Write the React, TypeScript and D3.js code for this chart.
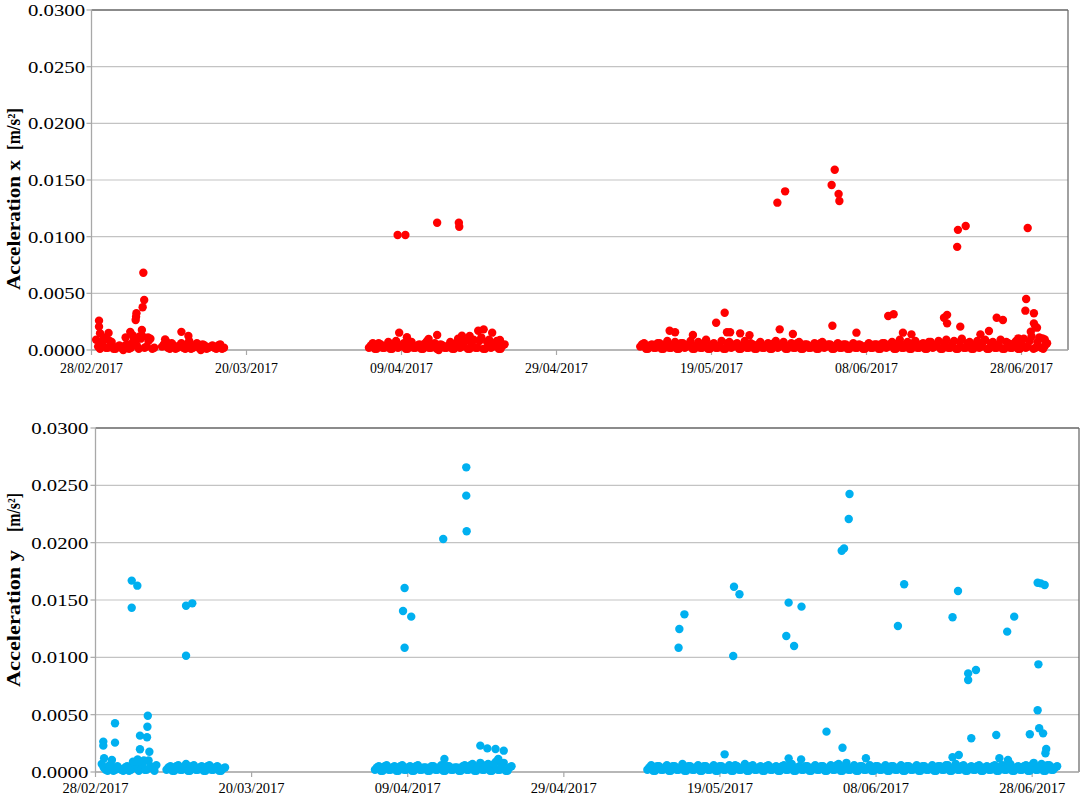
import React from "react";
import * as d3 from "d3";

// ---------- DATA (days since 28/02/2017 00:00, value in m/s²) ----------
const BASE_DATE = Date.UTC(2017, 1, 28);
const DOMAIN_DAYS = 126;
const TICK_STEP_DAYS = 20;
const Y_MAX = 0.03;
const SAMPLE_STEP_DAYS = 0.5; // regular sampling interval of the low-level records

// Acceleration x — isolated / elevated records
const xPeaks: [number, number][] = [
  [0.97, 0.00259], [0.97, 0.00206], [1.1, 0.00147], [2.2, 0.0015], [5.0, 0.0016],
  [5.8, 0.00324], [5.75, 0.00294], [5.7, 0.00265], [6.6, 0.00377], [6.8, 0.00441],
  [6.69, 0.00682], [6.5, 0.00176], [11.6, 0.0016], [12.5, 0.00123], [9.5, 0.00094],
  [4.4, 0.0011], [5.3, 0.0013], [6.2, 0.0012], [7.3, 0.0011], [1.6, 0.0010],
  [39.5, 0.01015], [40.5, 0.01015], [44.6, 0.01123], [47.4, 0.01123], [47.45, 0.01088],
  [39.7, 0.00153], [44.6, 0.00132], [40.7, 0.00112], [43.5, 0.00097], [47.8, 0.00126],
  [48.8, 0.00123], [49.9, 0.0017], [50.6, 0.00182], [51.7, 0.00153], [52.7, 0.00088],
  [88.5, 0.0130], [89.5, 0.0140], [95.5, 0.01456], [95.9, 0.0159], [96.4, 0.01376],
  [96.5, 0.01315], [111.7, 0.0091], [111.8, 0.0106], [112.8, 0.01094], [120.8, 0.01076],
  [81.7, 0.00329], [80.6, 0.00241], [82.0, 0.00156], [82.4, 0.00156], [74.6, 0.0017],
  [75.3, 0.00156], [77.6, 0.00132], [83.7, 0.00147], [84.9, 0.0013], [88.8, 0.00182],
  [90.5, 0.00141], [95.6, 0.00214], [120.6, 0.0045], [120.5, 0.00347], [121.6, 0.00324],
  [121.6, 0.00235], [121.8, 0.00206], [121.2, 0.00162], [102.8, 0.003], [103.5, 0.00315],
  [110.0, 0.00285], [110.4, 0.0031], [110.4, 0.00235], [112.1, 0.00206], [116.8, 0.00285],
  [117.6, 0.00265], [98.7, 0.00153], [104.7, 0.00153], [105.8, 0.00138], [115.8, 0.00168],
  [114.7, 0.00138], [119.6, 0.00103], [122.7, 0.00103], [122.0, 0.00197], [123.0, 0.00094],
];

// Acceleration x — regularly sampled low-level records (start day, values)
const xBandA1Start = 0.6;
const xBandA1 = [0.0009, 0.0001, 0.0011, 0.0002, 0.0007, 0.0001, 0.0004, 0.0000, 0.0005, 0.0002, 0.0009, 0.0001, 0.0012, 0.0003, 0.0010, 0.0002];
const xBandA1bStart = 0.85;
const xBandA1b = [0.0003, 0.0006, 0.0002, 0.0008, 0.0001, 0.0003, 0.0002, 0.0004, 0.0001, 0.0007, 0.0004, 0.0010, 0.0002, 0.0008, 0.0001];
const xBandA2Start = 9.1;
const xBandA2 = [0.0003, 0.0008, 0.0001, 0.0004, 0.0002, 0.0006, 0.0001, 0.0008, 0.0002, 0.0006, 0.0000, 0.0004, 0.0002, 0.0004, 0.0001, 0.0005, 0.0002];
const xBandA2bStart = 9.35;
const xBandA2b = [0.0005, 0.0002, 0.0006, 0.0001, 0.0004, 0.0002, 0.0005, 0.0001, 0.0004, 0.0002, 0.0005, 0.0001, 0.0003, 0.0002, 0.0004, 0.0001];
const xBandBStart = 35.8;
const xBandB = [
  0.0002, 0.0006, 0.0001, 0.0005, 0.0002, 0.0007, 0.0001, 0.0008, 0.0003, 0.0006,
  0.0001, 0.0007, 0.0002, 0.0005, 0.0001, 0.0008, 0.0002, 0.0006, 0.0000, 0.0004,
  0.0002, 0.0007, 0.0001, 0.0010, 0.0003, 0.0008, 0.0001, 0.0009, 0.0002, 0.0011,
  0.0001, 0.0009, 0.0003, 0.0008, 0.0001, 0.0005,
];
const xBandBbStart = 36.05;
const xBandBb = [
  0.0004, 0.0001, 0.0006, 0.0002, 0.0004, 0.0001, 0.0005, 0.0002, 0.0004, 0.0001,
  0.0005, 0.0002, 0.0004, 0.0001, 0.0006, 0.0002, 0.0004, 0.0001, 0.0005, 0.0002,
  0.0004, 0.0001, 0.0006, 0.0002, 0.0007, 0.0001, 0.0006, 0.0002, 0.0008, 0.0001,
  0.0007, 0.0002, 0.0006, 0.0001, 0.0004,
];
const xBandCStart = 70.8;
const xBandC = [
  0.0003, 0.0006, 0.0001, 0.0005, 0.0002, 0.0006, 0.0001, 0.0008, 0.0002, 0.0007,
  0.0001, 0.0006, 0.0003, 0.0008, 0.0001, 0.0007, 0.0002, 0.0009, 0.0001, 0.0006,
  0.0002, 0.0008, 0.0001, 0.0007, 0.0003, 0.0006, 0.0001, 0.0008, 0.0002, 0.0005,
  0.0001, 0.0007, 0.0002, 0.0006, 0.0001, 0.0008, 0.0003, 0.0007, 0.0001, 0.0006,
  0.0002, 0.0007, 0.0001, 0.0005, 0.0002, 0.0006, 0.0001, 0.0007, 0.0003, 0.0005,
  0.0001, 0.0006, 0.0002, 0.0005, 0.0001, 0.0006, 0.0002, 0.0004, 0.0001, 0.0006,
  0.0002, 0.0005, 0.0001, 0.0006, 0.0003, 0.0007, 0.0001, 0.0009, 0.0002, 0.0007,
  0.0001, 0.0008, 0.0002, 0.0006, 0.0001, 0.0007, 0.0003, 0.0008, 0.0001, 0.0009,
  0.0002, 0.0008, 0.0001, 0.0010, 0.0002, 0.0007, 0.0001, 0.0008, 0.0003, 0.0009,
  0.0001, 0.0007, 0.0002, 0.0009, 0.0001, 0.0006, 0.0002, 0.0008, 0.0001, 0.0010,
  0.0003, 0.0012, 0.0002, 0.0011, 0.0001, 0.0006,
];
const xBandCbStart = 71.05;
const xBandCb = [
  0.0005, 0.0001, 0.0004, 0.0002, 0.0006, 0.0001, 0.0005, 0.0002, 0.0004, 0.0001,
  0.0006, 0.0002, 0.0005, 0.0001, 0.0004, 0.0002, 0.0006, 0.0001, 0.0005, 0.0002,
  0.0004, 0.0001, 0.0006, 0.0002, 0.0005, 0.0001, 0.0004, 0.0002, 0.0006, 0.0001,
  0.0005, 0.0002, 0.0004, 0.0001, 0.0006, 0.0002, 0.0005, 0.0001, 0.0004, 0.0002,
  0.0006, 0.0001, 0.0005, 0.0002, 0.0004, 0.0001, 0.0006, 0.0002, 0.0005, 0.0001,
  0.0004, 0.0002, 0.0005, 0.0001, 0.0004, 0.0002, 0.0005, 0.0001, 0.0004, 0.0002,
  0.0005, 0.0001, 0.0006, 0.0002, 0.0005, 0.0001, 0.0006, 0.0002, 0.0005, 0.0001,
  0.0006, 0.0002, 0.0005, 0.0001, 0.0007, 0.0002, 0.0005, 0.0001, 0.0006, 0.0002,
  0.0005, 0.0001, 0.0007, 0.0002, 0.0006, 0.0001, 0.0005, 0.0002, 0.0007, 0.0001,
  0.0006, 0.0002, 0.0005, 0.0001, 0.0007, 0.0002, 0.0006, 0.0001, 0.0005, 0.0002,
  0.0008, 0.0001, 0.0007, 0.0002, 0.0004,
];

// Acceleration y — isolated / elevated records
const yPeaks: [number, number][] = [
  [4.64, 0.01669], [5.36, 0.01625], [4.64, 0.01433], [11.6, 0.0145], [12.4, 0.01471],
  [11.6, 0.01014], [2.5, 0.00425], [2.5, 0.00256], [1.0, 0.00265], [1.0, 0.0023],
  [5.7, 0.00317], [6.6, 0.00303], [6.7, 0.00491], [6.65, 0.00395], [5.7, 0.00198],
  [6.9, 0.00177], [1.1, 0.0012], [2.1, 0.00105], [4.8, 0.0009], [5.4, 0.0011], [6.2, 0.0010],
  [39.6, 0.01605], [39.4, 0.01404], [40.45, 0.01355], [39.6, 0.01084], [44.55, 0.02032],
  [47.5, 0.02657], [47.5, 0.0241], [47.55, 0.021], [49.3, 0.0023], [50.2, 0.00206],
  [51.25, 0.002], [52.3, 0.00186], [44.7, 0.00113], [51.6, 0.00113],
  [96.6, 0.02424], [96.5, 0.02206], [95.6, 0.0193], [95.9, 0.0195], [81.8, 0.01616],
  [82.5, 0.0155], [81.7, 0.01012], [75.45, 0.01375], [74.8, 0.01247], [74.7, 0.01084],
  [88.8, 0.01477], [90.45, 0.01442], [88.5, 0.01186], [89.5, 0.01099], [93.65, 0.00352],
  [95.7, 0.00212], [80.6, 0.00154], [88.8, 0.00119], [90.4, 0.0011],
  [103.6, 0.01637], [102.8, 0.01273], [110.5, 0.01578], [109.8, 0.01349], [117.7, 0.01355],
  [116.8, 0.01224], [120.7, 0.01651], [121.1, 0.01645], [121.6, 0.01631], [120.8, 0.00939],
  [120.7, 0.00538], [120.9, 0.00381], [121.4, 0.00337], [119.7, 0.00329], [115.4, 0.00323],
  [112.2, 0.00294], [111.8, 0.0086], [111.8, 0.00802], [112.8, 0.0089], [121.8, 0.002],
  [121.7, 0.00163], [109.8, 0.00128], [110.6, 0.00148], [115.8, 0.0012], [116.9, 0.00105],
  [98.7, 0.0012],
];

// Acceleration y — regularly sampled low-level records (start day, values)
const yBandA1Start = 0.8;
const yBandA1 = [0.0007, 0.0002, 0.0006, 0.0001, 0.0005, 0.0002, 0.0004, 0.0001, 0.0007, 0.0003, 0.0009, 0.0002, 0.0010, 0.0003, 0.0006];
const yBandA1bStart = 1.05;
const yBandA1b = [0.0004, 0.0001, 0.0005, 0.0002, 0.0003, 0.0001, 0.0005, 0.0002, 0.0006, 0.0001, 0.0007, 0.0002, 0.0005, 0.0001];
const yBandA2Start = 9.1;
const yBandA2 = [0.0002, 0.0005, 0.0001, 0.0006, 0.0002, 0.0007, 0.0001, 0.0006, 0.0002, 0.0005, 0.0001, 0.0006, 0.0002, 0.0005, 0.0001, 0.0004];
const yBandA2bStart = 9.35;
const yBandA2b = [0.0004, 0.0001, 0.0005, 0.0002, 0.0004, 0.0001, 0.0005, 0.0002, 0.0004, 0.0001, 0.0005, 0.0002, 0.0004, 0.0001, 0.0003];
const yBandBStart = 35.8;
const yBandB = [
  0.0002, 0.0005, 0.0001, 0.0006, 0.0002, 0.0005, 0.0001, 0.0006, 0.0002, 0.0005,
  0.0001, 0.0006, 0.0002, 0.0004, 0.0001, 0.0005, 0.0002, 0.0006, 0.0001, 0.0005,
  0.0002, 0.0004, 0.0001, 0.0006, 0.0002, 0.0007, 0.0001, 0.0008, 0.0002, 0.0007,
  0.0001, 0.0009, 0.0002, 0.0008, 0.0001, 0.0005,
];
const yBandBbStart = 36.05;
const yBandBb = [
  0.0004, 0.0001, 0.0005, 0.0002, 0.0004, 0.0001, 0.0005, 0.0002, 0.0004, 0.0001,
  0.0005, 0.0002, 0.0004, 0.0001, 0.0005, 0.0002, 0.0004, 0.0001, 0.0005, 0.0002,
  0.0004, 0.0001, 0.0005, 0.0002, 0.0006, 0.0001, 0.0005, 0.0002, 0.0006, 0.0001,
  0.0007, 0.0002, 0.0005, 0.0001, 0.0004,
];
const yBandCStart = 70.7;
const yBandC = [
  0.0002, 0.0006, 0.0001, 0.0005, 0.0002, 0.0006, 0.0001, 0.0005, 0.0002, 0.0007,
  0.0001, 0.0005, 0.0002, 0.0006, 0.0001, 0.0005, 0.0002, 0.0006, 0.0001, 0.0005,
  0.0002, 0.0006, 0.0001, 0.0005, 0.0002, 0.0007, 0.0001, 0.0006, 0.0002, 0.0005,
  0.0001, 0.0006, 0.0002, 0.0005, 0.0001, 0.0006, 0.0002, 0.0007, 0.0001, 0.0005,
  0.0002, 0.0005, 0.0001, 0.0006, 0.0002, 0.0005, 0.0001, 0.0006, 0.0002, 0.0007,
  0.0001, 0.0008, 0.0002, 0.0006, 0.0001, 0.0005, 0.0002, 0.0006, 0.0001, 0.0005,
  0.0002, 0.0006, 0.0001, 0.0005, 0.0002, 0.0006, 0.0001, 0.0005, 0.0002, 0.0006,
  0.0001, 0.0005, 0.0002, 0.0006, 0.0001, 0.0005, 0.0002, 0.0006, 0.0001, 0.0007,
  0.0002, 0.0006, 0.0001, 0.0005, 0.0002, 0.0006, 0.0001, 0.0005, 0.0002, 0.0006,
  0.0001, 0.0006, 0.0002, 0.0007, 0.0001, 0.0005, 0.0002, 0.0006, 0.0001, 0.0008,
  0.0002, 0.0007, 0.0001, 0.0006, 0.0002, 0.0005,
];
const yBandCbStart = 70.95;
const yBandCb = [
  0.0004, 0.0001, 0.0005, 0.0002, 0.0004, 0.0001, 0.0005, 0.0002, 0.0004, 0.0001,
  0.0005, 0.0002, 0.0004, 0.0001, 0.0005, 0.0002, 0.0004, 0.0001, 0.0005, 0.0002,
  0.0004, 0.0001, 0.0006, 0.0002, 0.0004, 0.0001, 0.0005, 0.0002, 0.0004, 0.0001,
  0.0005, 0.0002, 0.0004, 0.0001, 0.0005, 0.0002, 0.0006, 0.0001, 0.0004, 0.0002,
  0.0005, 0.0001, 0.0004, 0.0002, 0.0005, 0.0001, 0.0004, 0.0002, 0.0006, 0.0001,
  0.0005, 0.0002, 0.0004, 0.0001, 0.0005, 0.0002, 0.0004, 0.0001, 0.0005, 0.0002,
  0.0004, 0.0001, 0.0005, 0.0002, 0.0004, 0.0001, 0.0005, 0.0002, 0.0004, 0.0001,
  0.0005, 0.0002, 0.0004, 0.0001, 0.0005, 0.0002, 0.0006, 0.0001, 0.0004, 0.0002,
  0.0005, 0.0001, 0.0004, 0.0002, 0.0005, 0.0001, 0.0004, 0.0002, 0.0005, 0.0001,
  0.0005, 0.0002, 0.0006, 0.0001, 0.0004, 0.0002, 0.0005, 0.0001, 0.0006, 0.0002,
  0.0005, 0.0001, 0.0006, 0.0002, 0.0004,
];

// ---------- helpers ----------
const toDate = (day: number) => new Date(BASE_DATE + day * 864e5);

function bandRecords(start: number, values: number[]): [number, number][] {
  return values.map((v, i) => [start + i * SAMPLE_STEP_DAYS, v]);
}

const xRecords: [number, number][] = [
  ...bandRecords(xBandA1Start, xBandA1),
  ...bandRecords(xBandA1bStart, xBandA1b),
  ...bandRecords(xBandA2Start, xBandA2),
  ...bandRecords(xBandA2bStart, xBandA2b),
  ...bandRecords(xBandBStart, xBandB),
  ...bandRecords(xBandBbStart, xBandBb),
  ...bandRecords(xBandCStart, xBandC),
  ...bandRecords(xBandCbStart, xBandCb),
  ...xPeaks,
];
const yRecords: [number, number][] = [
  ...bandRecords(yBandA1Start, yBandA1),
  ...bandRecords(yBandA1bStart, yBandA1b),
  ...bandRecords(yBandA2Start, yBandA2),
  ...bandRecords(yBandA2bStart, yBandA2b),
  ...bandRecords(yBandBStart, yBandB),
  ...bandRecords(yBandBbStart, yBandBb),
  ...bandRecords(yBandCStart, yBandC),
  ...bandRecords(yBandCbStart, yBandCb),
  ...yPeaks,
];

const FONT = "'Liberation Serif', 'Times New Roman', serif";

type PanelProps = {
  left: number; right: number; top: number; bottom: number;
  records: [number, number][];
  color: string;
  titleMain: string; titleMainStart: number; titleMainLen: number;
  titleUnitStart: number; titleUnitLen: number;
  yLabelRight: number; yLabelLen: number;
  xLabelBaseline: number; xLabelLen: number;
};

function Panel(p: PanelProps) {
  const x = d3.scaleUtc().domain([toDate(0), toDate(DOMAIN_DAYS)]).range([p.left, p.right]);
  const y = d3.scaleLinear().domain([0, Y_MAX]).range([p.bottom, p.top]);
  const yTicks = d3.range(0, Y_MAX + 1e-9, 0.005);
  const xTicks = d3.utcDay.range(toDate(0), toDate(DOMAIN_DAYS - 1), TICK_STEP_DAYS);
  const fmtY = d3.format(".4f");
  const fmtX = d3.utcFormat("%d/%m/%Y");
  return (
    <g>
      {yTicks.map((t) => (
        <line key={"g" + t} x1={p.left} x2={p.right} y1={y(t)} y2={y(t)} stroke="#c3c3c3" strokeWidth={1.2} />
      ))}
      <line x1={p.left} x2={p.right} y1={p.top} y2={p.top} stroke="#6e6e6e" strokeWidth={1.3} />
      <line x1={p.right} x2={p.right} y1={p.top} y2={p.bottom} stroke="#6e6e6e" strokeWidth={1.3} />
      <line x1={p.left} x2={p.left} y1={p.top} y2={p.bottom} stroke="#a8a8a8" strokeWidth={1.3} />
      <line x1={p.left} x2={p.right} y1={p.bottom} y2={p.bottom} stroke="#a8a8a8" strokeWidth={1.3} />
      {yTicks.map((t) => (
        <g key={"y" + t}>
          <line x1={p.left - 5} x2={p.left} y1={y(t)} y2={y(t)} stroke="#a8a8a8" strokeWidth={1.2} />
          <text x={p.yLabelRight} y={y(t)} dy="0.36em" textAnchor="end" fontFamily={FONT} fontSize={17}
            textLength={p.yLabelLen} lengthAdjust="spacingAndGlyphs">{fmtY(t)}</text>
        </g>
      ))}
      {xTicks.map((t) => (
        <g key={"x" + t.getTime()}>
          <line x1={x(t)} x2={x(t)} y1={p.bottom} y2={p.bottom + 5} stroke="#a8a8a8" strokeWidth={1.2} />
          <text x={x(t)} y={p.xLabelBaseline} textAnchor="middle" fontFamily={FONT} fontSize={15}
            textLength={p.xLabelLen} lengthAdjust="spacingAndGlyphs">{fmtX(t)}</text>
        </g>
      ))}
      {p.records.map(([d, v], i) => (
        <circle key={i} cx={x(toDate(d))} cy={y(v)} r={4.2} fill={p.color} />
      ))}
      <text transform={`translate(20,${p.titleMainStart}) rotate(-90)`} fontFamily={FONT} fontWeight="bold" fontSize={18}
        textLength={p.titleMainLen} lengthAdjust="spacingAndGlyphs">{p.titleMain}</text>
      <text transform={`translate(20,${p.titleUnitStart}) rotate(-90)`} fontFamily={FONT} fontWeight="bold" fontSize={18}
        textLength={p.titleUnitLen} lengthAdjust="spacingAndGlyphs">[m/s²]</text>
    </g>
  );
}

export default function App() {
  return (
    <svg width={1084} height={798} style={{ position: "absolute", left: 0, top: 0, background: "#fff" }}>
      <rect width={1084} height={798} fill="#fff" />
      <Panel left={91.5} right={1068} top={10} bottom={350} records={xRecords} color="#ff0000"
        titleMain="Acceleration x" titleMainStart={290} titleMainLen={130}
        titleUnitStart={150} titleUnitLen={42}
        yLabelRight={85} yLabelLen={57} xLabelBaseline={373} xLabelLen={63} />
      <Panel left={95.5} right={1079} top={428} bottom={772} records={yRecords} color="#00b0f0"
        titleMain="Acceleration y" titleMainStart={687} titleMainLen={137}
        titleUnitStart={532} titleUnitLen={39}
        yLabelRight={88.3} yLabelLen={57} xLabelBaseline={793} xLabelLen={66} />
    </svg>
  );
}
